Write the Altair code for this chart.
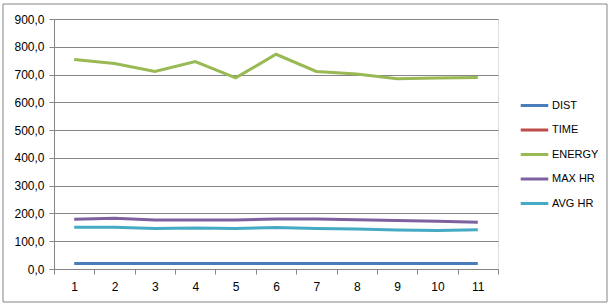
import altair as alt
import pandas as pd

categories = [1, 2, 3, 4, 5, 6, 7, 8, 9, 10, 11]
series_names = ["DIST", "TIME", "ENERGY", "MAX HR", "AVG HR"]
colors = ["#4A7EBB", "#BE4B48", "#98B954", "#7D60A0", "#46AAC5"]

dist = [20, 20, 20, 20, 20, 20, 20, 20, 20, 20, 20]
time = [None] * 11
energy = [754, 740, 711, 747, 688, 773, 711, 702, 685, 688, 689]
max_hr = [179, 183, 176, 176, 176, 180, 180, 177, 175, 172, 168]
avg_hr = [150, 150, 146, 148, 146, 149, 146, 144, 140, 139, 141]

rows = []
for name, vals in zip(series_names, [dist, time, energy, max_hr, avg_hr]):
    for c, v in zip(categories, vals):
        rows.append({"cat": c, "series": name, "value": v})
df = pd.DataFrame(rows)

FONT = "Liberation Sans"

lines = alt.Chart(df).mark_line(strokeWidth=3, interpolate="linear").encode(
    x=alt.X("cat:O", title=None,
            scale=alt.Scale(paddingInner=0, paddingOuter=0),
            axis=alt.Axis(labelAngle=0, tickBand="extent", grid=False,
                          domainColor="#868686", tickColor="#868686",
                          tickSize=5, labelPadding=7, labelFontSize=12,
                          labelColor="#000000", labelFont=FONT)),
    y=alt.Y("value:Q", title=None,
            scale=alt.Scale(domain=[0, 900], nice=False),
            axis=alt.Axis(values=list(range(0, 1000, 100)),
                          labelExpr="replace(format(datum.value, '.1f'), '.', ',')",
                          gridColor="#868686", gridWidth=1,
                          domainColor="#868686", tickColor="#868686",
                          tickSize=5, labelPadding=5, labelFontSize=12,
                          labelColor="#000000", labelFont=FONT)),
    color=alt.Color("series:N", title=None,
                    scale=alt.Scale(domain=series_names, range=colors),
                    legend=alt.Legend(orient="none", legendX=465, legendY=71,
                                      symbolType="stroke", symbolStrokeWidth=3,
                                      symbolSize=760, labelFontSize=11,
                                      labelFont=FONT, labelColor="#000000",
                                      rowPadding=2.5, labelOffset=2)),
    order=alt.Order("series:N"),
)

frame = alt.Chart(pd.DataFrame({"a": [0]})).mark_rect(
    fill="transparent", stroke="#868686", strokeWidth=1
).encode(x=alt.value(-51), x2=alt.value(553), y=alt.value(-15), y2=alt.value(283))

chart = alt.layer(frame, lines).properties(
    width=444, height=250,
    autosize=alt.AutoSizeParams(type="none"),
    padding={"left": 54, "top": 19, "right": 113, "bottom": 37},
).configure_view(stroke=None).configure(background="#ffffff")

chart.save("out.html", embed_options={"renderer": "svg", "actions": False})
